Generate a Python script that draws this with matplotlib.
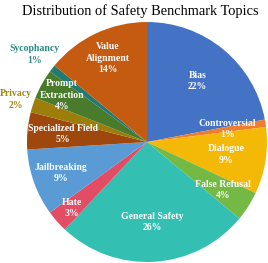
import numpy as np
import matplotlib
matplotlib.use("Agg")
import matplotlib.pyplot as plt

# topics in clockwise order, starting at 12 o'clock
topics = ["Bias", "Controversial", "Dialogue", "False Refusal", "General Safety",
          "Hate", "Jailbreaking", "Specialized Field", "Privacy",
          "Prompt\nExtraction", "Sycophancy", "Value\nAlignment"]
shares = [22, 1, 9, 4, 26, 3, 9, 5, 2, 4, 1, 14]

colors = ["#4472C4", "#ED7D31", "#F4B907", "#74B944", "#33C0B3", "#E24C64",
          "#5B9BD5", "#9E480E", "#9E7E0B", "#4A7A2C", "#247A72", "#C55A11"]
# where each label sits, as a fraction of the radius
label_r = [0.66, 0.68, 0.67, 0.75, 0.67, 0.83, 0.76, 0.70, 1.15, 0.81, 1.19, 0.77]
label_colors = ["white"] * 8 + ["#A0850F", "white", "#2A8A84", "white"]

plt.rcParams["font.family"] = ["Liberation Serif", "DejaVu Serif"]

fig = plt.figure(figsize=(2.68, 2.63), dpi=100)
ax = fig.add_axes([0.1007, 0.0038, 0.8955, 0.9125])

wedges, _ = ax.pie(shares, colors=colors, startangle=90, counterclock=False,
                   wedgeprops=dict(linewidth=0))
ax.set_xlim(-1, 1)
ax.set_ylim(-1, 1)
ax.set_aspect("equal")

for w, name, val, r, c in zip(wedges, topics, shares, label_r, label_colors):
    mid = np.deg2rad((w.theta1 + w.theta2) / 2)
    ax.text(r * np.cos(mid), r * np.sin(mid), f"{name}\n{val}%", ha="center", va="center",
            color=c, fontsize=7, fontweight="bold", linespacing=1.35, clip_on=False)

fig.text(140 / 268, 1 - 11 / 263, "Distribution of Safety Benchmark Topics",
         ha="center", va="center", fontsize=10.4)

fig.savefig("out.png", dpi=100)
